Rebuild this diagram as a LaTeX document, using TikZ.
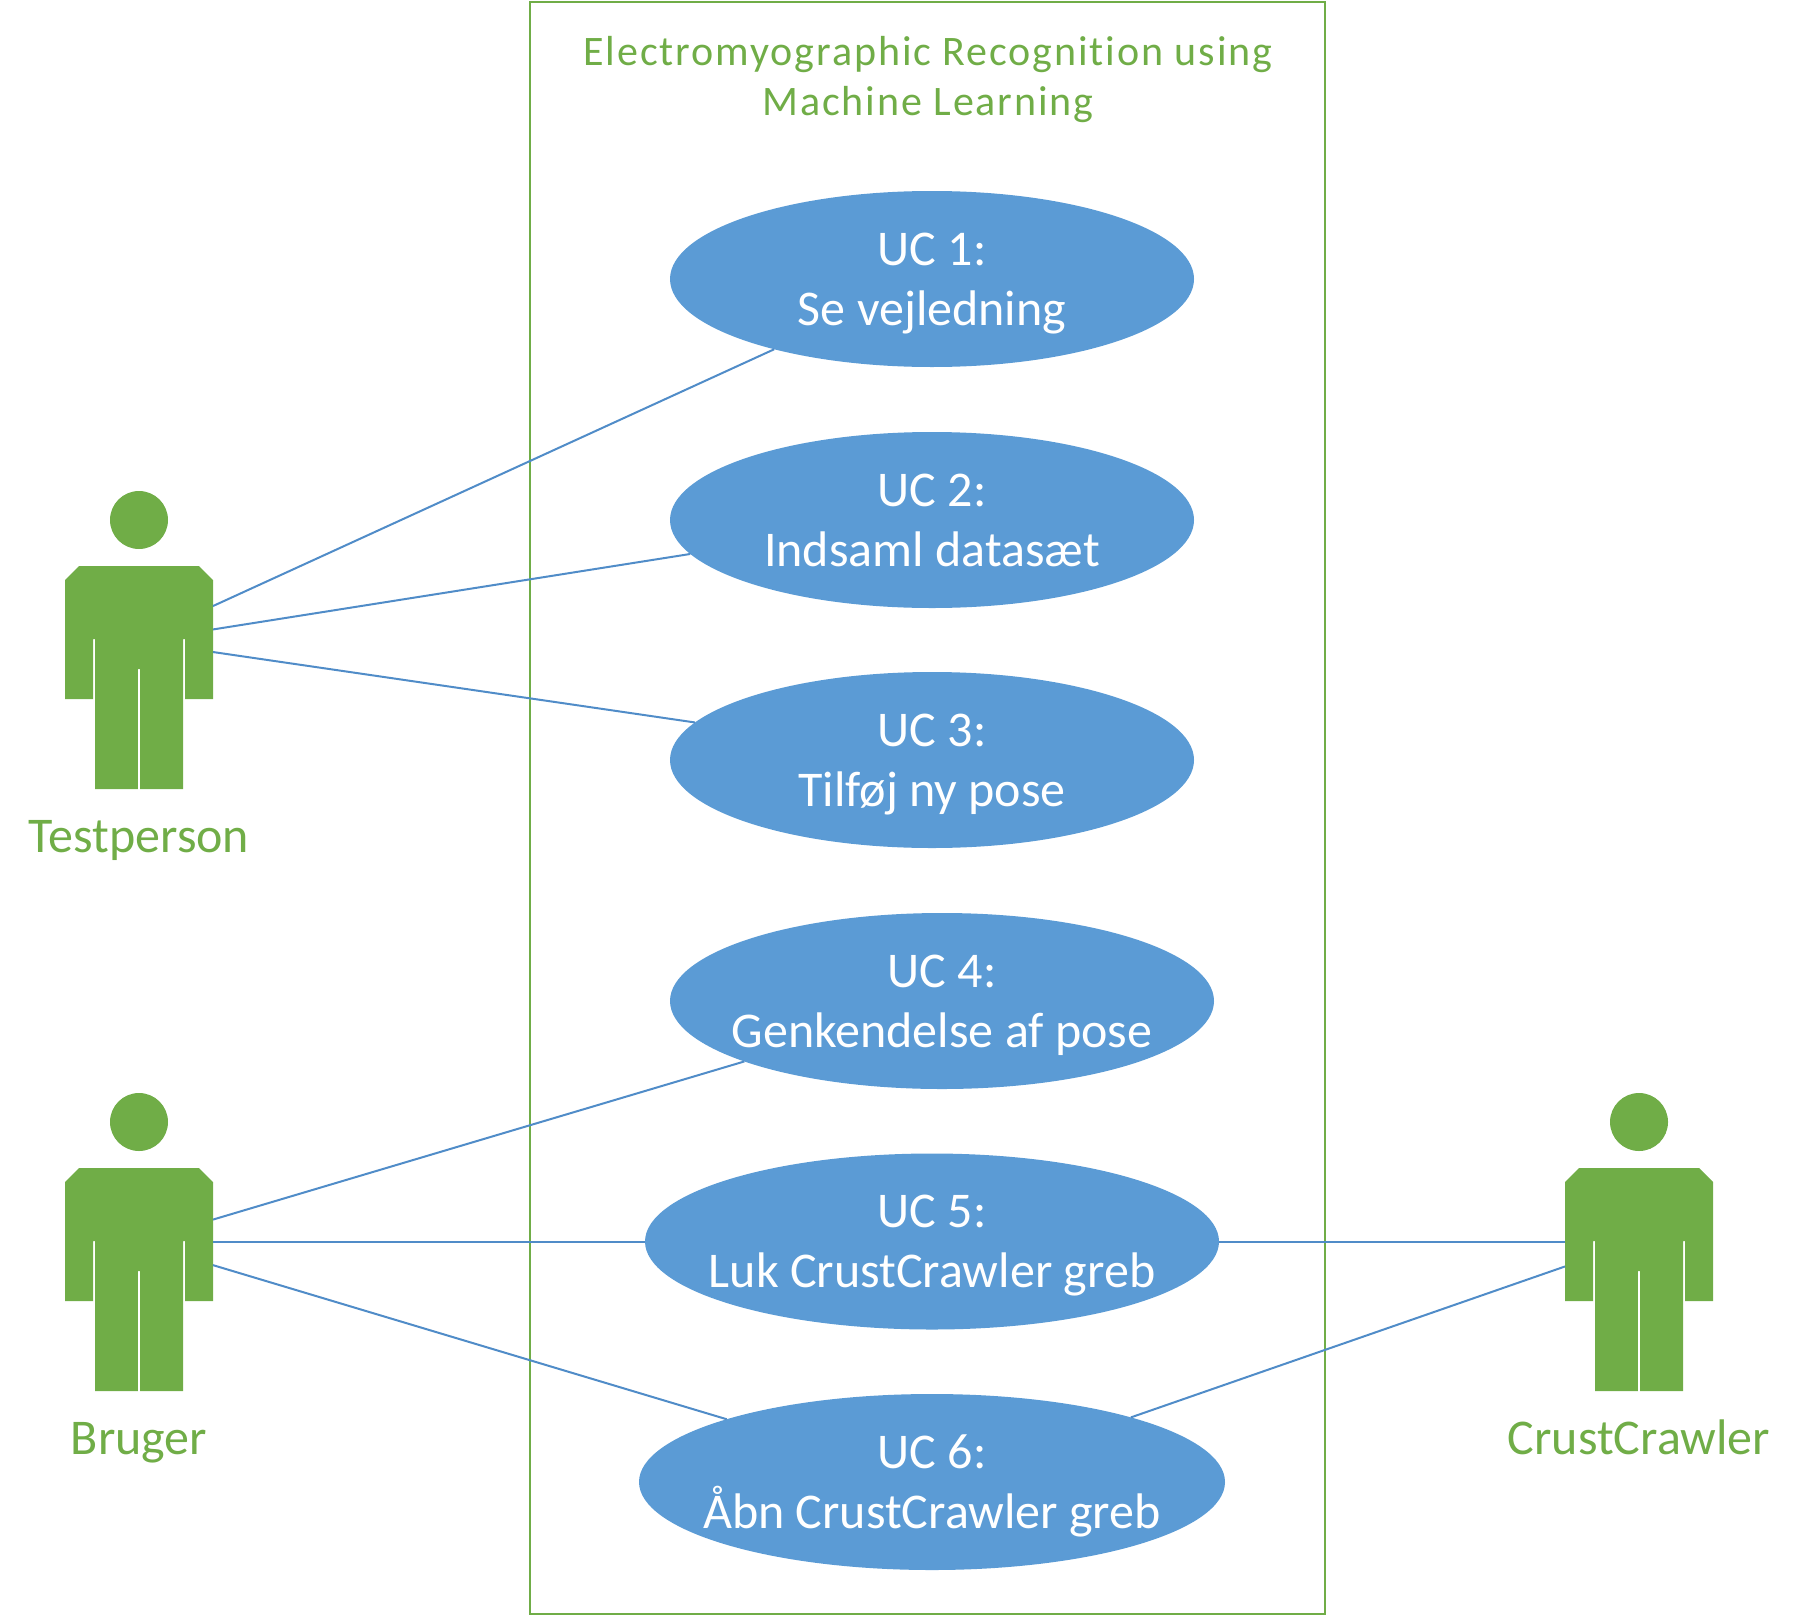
\documentclass[tikz,border=0pt]{standalone}
\usepackage{fontspec}
\setmainfont{Carlito}[Ligatures=NoCommon]
\usetikzlibrary{shapes.geometric}
\definecolor{ucgreen}{RGB}{112,173,71}
\definecolor{ucblue}{RGB}{91,155,213}
\definecolor{ucline}{RGB}{80,140,200}
\tikzset{
  usecase/.style={ellipse, fill=ucblue, inner sep=0pt, outer sep=0pt, minimum height=88pt},
  uctext/.style={text=white, inner sep=0pt, align=center, yshift=-2.9pt, font=\fontsize{25}{30}\selectfont, execute at begin node={\rule{0pt}{21pt}}, execute at end node={\rule[-6pt]{0pt}{6pt}}},
  actorbody/.style={rectangle, inner sep=0pt, outer sep=0pt, minimum width=74pt, minimum height=111.5pt},
  actorhead/.style={circle, fill=ucgreen, inner sep=0pt, outer sep=0pt, minimum size=29pt},
  actorlabel/.style={text=ucgreen, inner sep=0pt, font=\fontsize{25}{30}\selectfont},
  assoc/.style={ucline, line width=1pt}
}
\begin{document}
\begin{tikzpicture}[x=0.5pt, y=-0.5pt]
\useasboundingbox (0,0) rectangle (1797,1616);
% System boundary
\node[draw=ucgreen, line width=0.9pt, inner sep=0pt, minimum width=397.5pt, minimum height=806pt] (system) at (927.5,808) {};
\node[text=ucgreen, align=center, font=\fontsize{21}{25}\selectfont\addfontfeature{LetterSpace=4.5}] (title) at (928,79.5) {Electromyographic Recognition using\\Machine Learning};

% Use cases
\foreach \ucnum/\ucx/\ucy/\ucw/\txt in {1/932/279/262/Se vejledning, 2/932/520/262/Indsaml datasæt, 3/932/760/262/Tilføj ny pose, 4/942/1001/272/Genkendelse af pose, 5/932/1241.5/287/Luk CrustCrawler greb, 6/932/1482/293/Åbn CrustCrawler greb}
    \node[usecase, minimum width=\ucw pt, label={[uctext]center:{UC \ucnum:\\\txt}}] (uc\ucnum) at (\ucx,\ucy) {};

% Actors
\foreach \name/\cx/\ytop/\txt in {testperson/139/566/Testperson, bruger/139/1168/Bruger, crust/1639/1168/CrustCrawler} {
    \node[actorhead] (\name head) at (\cx,\ytop-46) {};
    \node[actorbody] (\name) at (\cx,\ytop+111.5) {};
    \fill[ucgreen, shift={(\cx,\ytop)}] (-60,0) -- (60,0) -- (74,14) -- (74,133) -- (46,133) -- (46,73) -- (44,73) -- (44,223) -- (1.2,223) -- (1.2,103) -- (-1.2,103) -- (-1.2,223) -- (-44,223) -- (-44,73) -- (-46,73) -- (-46,133) -- (-74,133) -- (-74,14) -- cycle;
    \node[actorlabel, anchor=base] (\name label) at (\cx,\ytop+286) {\txt};
}

% Associations
\draw[assoc] (testperson.44) -- (uc1.204.6);
\draw[assoc] (testperson.33.2) -- (uc2.188.9);
\draw[assoc] (testperson.19.7) -- (uc3.171.4);
\draw[assoc] (bruger.39) -- (uc4.197.4);
\draw[assoc] (uc5.west -| bruger.east) -- (uc5.west);
\draw[assoc] (bruger.11.8) -- (uc6.163.1);
\draw[assoc] (uc5.east) -- (uc5.east -| crust.west);
\draw[assoc] (uc6.18.6) -- (crust.170.4);
\end{tikzpicture}
\end{document}
